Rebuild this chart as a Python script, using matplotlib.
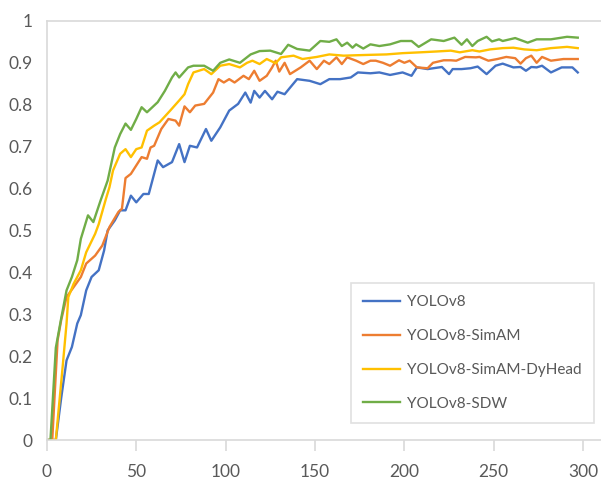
import matplotlib
matplotlib.use("Agg")
import matplotlib.pyplot as plt

# epoch / mAP pairs
ep_v8 = [0, 5, 8, 11, 14, 17, 19, 22, 25, 29, 32, 34, 38, 41, 44, 47, 50, 54, 57, 62,
         65, 70, 74, 77, 80, 84, 89, 92, 97, 102, 107, 111, 114, 116, 119, 122, 126, 129,
         133, 140, 147, 153, 158, 164, 170, 174, 181, 186, 192, 199, 204, 207, 213, 221,
         225, 227, 232, 237, 241, 246, 251, 255, 261, 265, 268, 271, 274, 277, 282, 288,
         294, 297]
map_v8 = [0, 0, 0.10, 0.19, 0.222, 0.278, 0.298, 0.357, 0.389, 0.405, 0.452, 0.50, 0.524,
          0.548, 0.548, 0.583, 0.567, 0.587, 0.587, 0.667, 0.651, 0.663, 0.706, 0.663,
          0.702, 0.698, 0.742, 0.714, 0.746, 0.786, 0.802, 0.829, 0.805, 0.833, 0.817,
          0.833, 0.813, 0.831, 0.825, 0.861, 0.857, 0.849, 0.861, 0.861, 0.865, 0.877,
          0.875, 0.877, 0.871, 0.877, 0.869, 0.889, 0.885, 0.890, 0.873, 0.885, 0.885,
          0.887, 0.891, 0.873, 0.893, 0.898, 0.889, 0.890, 0.881, 0.890, 0.889, 0.893,
          0.877, 0.889, 0.889, 0.877]

ep_simam = [0, 3, 6, 8, 11, 15, 19, 22, 27, 31, 35, 40, 42, 44, 47, 50, 53, 56, 58, 60,
            64, 68, 72, 74, 77, 80, 83, 88, 93, 96, 99, 102, 105, 110, 113, 116, 119, 123,
            126, 128, 130, 133, 136, 142, 147, 151, 155, 158, 162, 165, 168, 173, 177, 181,
            184, 188, 192, 197, 200, 203, 207, 213, 216, 222, 226, 229, 234, 240, 242, 247,
            252, 257, 262, 265, 268, 271, 274, 277, 282, 289, 297]
map_simam = [0, 0, 0.238, 0.286, 0.341, 0.365, 0.389, 0.421, 0.44, 0.464, 0.508, 0.544,
             0.552, 0.625, 0.635, 0.655, 0.675, 0.671, 0.698, 0.702, 0.742, 0.766, 0.762,
             0.75, 0.796, 0.782, 0.798, 0.802, 0.829, 0.861, 0.853, 0.861, 0.853, 0.869,
             0.861, 0.881, 0.857, 0.869, 0.889, 0.905, 0.879, 0.90, 0.873, 0.889, 0.905,
             0.885, 0.905, 0.897, 0.913, 0.897, 0.913, 0.905, 0.897, 0.905, 0.905, 0.90,
             0.893, 0.906, 0.90, 0.905, 0.889, 0.887, 0.90, 0.906, 0.906, 0.905, 0.914,
             0.913, 0.914, 0.905, 0.909, 0.914, 0.911, 0.898, 0.911, 0.917, 0.90, 0.914,
             0.905, 0.909, 0.909]

ep_dyhead = [0, 5, 9, 11, 12, 15, 19, 22, 27, 29, 33, 35, 37, 41, 44, 47, 50, 53, 56, 60,
             63, 69, 74, 77, 79, 82, 88, 92, 97, 102, 108, 112, 115, 119, 123, 128, 131,
             138, 143, 151, 158, 166, 173, 181, 190, 199, 209, 218, 226, 231, 238, 242, 248,
             255, 261, 267, 274, 282, 291, 297]
map_dyhead = [0, 0, 0.183, 0.278, 0.341, 0.373, 0.405, 0.448, 0.492, 0.515, 0.575, 0.603,
              0.643, 0.683, 0.694, 0.675, 0.694, 0.698, 0.738, 0.75, 0.758, 0.786, 0.81,
              0.825, 0.849, 0.877, 0.885, 0.873, 0.893, 0.897, 0.889, 0.90, 0.905, 0.897,
              0.909, 0.899, 0.913, 0.917, 0.909, 0.914, 0.920, 0.917, 0.918, 0.919, 0.920,
              0.923, 0.925, 0.927, 0.929, 0.925, 0.930, 0.927, 0.932, 0.935, 0.936, 0.932,
              0.930, 0.935, 0.938, 0.935]

ep_sdw = [0, 2, 5, 8, 11, 14, 17, 19, 23, 26, 30, 34, 38, 41, 44, 47, 50, 53, 56, 59, 62,
          66, 70, 72, 74, 79, 82, 88, 93, 97, 102, 108, 114, 119, 125, 131, 135, 140, 147,
          153, 158, 162, 165, 168, 171, 173, 177, 181, 186, 192, 198, 204, 208, 215, 222,
          228, 232, 235, 238, 241, 246, 249, 253, 255, 262, 269, 274, 282, 291, 297]
map_sdw = [0, 0, 0.22, 0.29, 0.357, 0.389, 0.429, 0.48, 0.536, 0.52, 0.571, 0.619, 0.698,
           0.73, 0.755, 0.74, 0.766, 0.794, 0.782, 0.794, 0.806, 0.833, 0.865, 0.877, 0.865,
           0.889, 0.893, 0.893, 0.881, 0.90, 0.908, 0.90, 0.92, 0.928, 0.929, 0.921, 0.943,
           0.933, 0.929, 0.952, 0.95, 0.956, 0.94, 0.948, 0.936, 0.944, 0.934, 0.944, 0.94,
           0.944, 0.952, 0.952, 0.938, 0.956, 0.952, 0.960, 0.943, 0.956, 0.940, 0.952,
           0.962, 0.951, 0.956, 0.952, 0.959, 0.948, 0.956, 0.956, 0.962, 0.960]

series = [
    ("YOLOv8", ep_v8, map_v8, "#4472C4"),
    ("YOLOv8-SimAM", ep_simam, map_simam, "#ED7D31"),
    ("YOLOv8-SimAM-DyHead", ep_dyhead, map_dyhead, "#FFC000"),
    ("YOLOv8-SDW", ep_sdw, map_sdw, "#70AD47"),
]

plt.rcParams['font.family'] = ['Lato', 'DejaVu Sans']

fig = plt.figure(figsize=(6.01, 4.79), dpi=100)
ax = fig.add_axes([0.078, 0.0814, 0.922, 0.875])

for name, xs, ys, col in series:
    ax.plot(xs, ys, color=col, linewidth=1.7, label=name, solid_joinstyle='round')

ax.set_xlim(0, 310)
ax.set_ylim(0, 1)
ax.set_xticks(range(0, 301, 50))
ax.set_yticks([i / 10 for i in range(11)])
ax.set_yticklabels(['0'] + [f'{i / 10:.1f}' for i in range(1, 10)] + ['1'])

grey = '#D9D9D9'
for s in ['top', 'left', 'bottom']:
    ax.spines[s].set_color(grey)
    ax.spines[s].set_linewidth(1.2)
ax.spines['right'].set_visible(False)

ax.tick_params(axis='x', length=8, color=grey, width=1.2, pad=9,
               labelsize=12.5, labelcolor='#595959')
ax.tick_params(axis='y', length=0, pad=10, labelsize=12.5, labelcolor='#595959')

leg = ax.legend(loc='upper left', bbox_to_anchor=(351 / 601, 1 - 283 / 479),
                bbox_transform=fig.transFigure, frameon=True, fontsize=11,
                fancybox=False, handlelength=2.4, handletextpad=0.45,
                labelspacing=1.3, borderpad=0.8, borderaxespad=0)
leg.get_frame().set_edgecolor(grey)
leg.get_frame().set_linewidth(1.2)
for t in leg.get_texts():
    t.set_color('#595959')

fig.savefig("out.png", dpi=100)
